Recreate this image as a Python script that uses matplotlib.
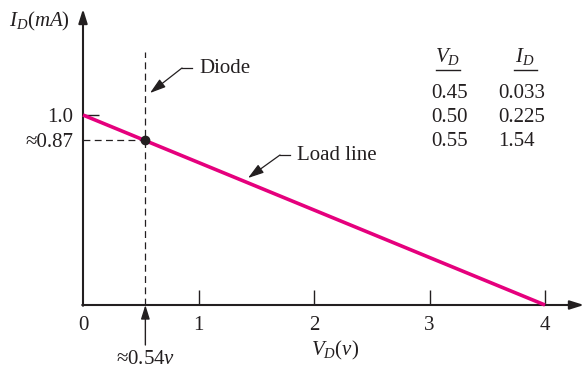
import matplotlib
matplotlib.use("Agg")
import matplotlib.pyplot as plt
from matplotlib.transforms import Affine2D

# Load line and operating point
load_v = [0.0, 4.0]
load_i = [1.0, 0.0]
q_v = 0.54
q_i = 0.87

x_ticks = [0, 1, 2, 3, 4]
x_tick_labels = ["0", "1", "2", "3", "4"]
y_tick = 1.0
y_tick_label = "1.0"
q_i_label = "≈0.87"
q_v_label = "≈0.54$v$"

# Diode characteristic table
table_vd = ["0.45", "0.50", "0.55"]
table_id = ["0.033", "0.225", "1.54"]

plt.rcParams["font.family"] = ["Liberation Serif", "DejaVu Serif"]
plt.rcParams["mathtext.fontset"] = "custom"
plt.rcParams["mathtext.rm"] = "Liberation Serif"
plt.rcParams["mathtext.it"] = "Liberation Serif:italic"
plt.rcParams["mathtext.bf"] = "Liberation Serif:bold"

W, H = 585, 370
fig = plt.figure(figsize=(W / 100, H / 100), dpi=100)
ax = fig.add_axes([0, 0, 1, 1])

# Pixel geometry of the plotting area
x0_px, ux = 83.0, 115.5   # x = 0 position, pixels per volt
y0_px, uy = 305.0, 190.0  # y = 0 position (from top), pixels per mA
ax.set_xlim(-x0_px / ux, (W - x0_px) / ux)
ax.set_ylim(-(H - y0_px) / uy, y0_px / uy)
ax.axis("off")

# transform in pixels measured from the top-left corner
pix = Affine2D().scale(1 / W, -1 / H).translate(0, 1) + fig.transFigure

FS = 15
black = "#231f20"
magenta = "#e5007d"

# axes with arrow heads
arrow_kw = dict(arrowstyle="-|>,head_length=0.7,head_width=0.22",
                color=black, lw=1.5, mutation_scale=12, shrinkA=0, shrinkB=0)
ax.annotate("", xy=(x0_px, 9), xytext=(x0_px, y0_px + 0.8),
            xycoords=pix, textcoords=pix, arrowprops=arrow_kw)
ax.annotate("", xy=(584, y0_px), xytext=(x0_px - 0.8, y0_px),
            xycoords=pix, textcoords=pix, arrowprops=arrow_kw)

# tick marks
tick_len_y = 15 / uy
tick_len_x = 16 / ux
ax.vlines(x_ticks[1:], 0, tick_len_y, color=black, lw=1.0)
ax.hlines([y_tick], 0, tick_len_x, color=black, lw=1.0)

# tick labels
for xv, lab in zip(x_ticks, x_tick_labels):
    ax.text(xv, -25 / uy, lab, ha="center", va="baseline", fontsize=FS, color=black)
ax.text(-10 / ux, y_tick, y_tick_label, ha="right", va="center_baseline",
        fontsize=FS, color=black)
ax.text(-10 / ux, q_i, q_i_label, ha="right", va="center_baseline",
        fontsize=FS, color=black)

# axis titles
ax.text(9, 26, r"$I_D(mA)$", transform=pix, ha="left", va="baseline",
        fontsize=FS, color=black)
ax.text(311, 355, r"$V_D(v)$", transform=pix, ha="left", va="baseline",
        fontsize=FS, color=black)

# diode line (vertical dashed) and projection to the current axis
dash = (0, (5.5, 3.5))
ax.plot([q_v, q_v], [0, (y0_px - 52) / uy], color=black, lw=0.9, linestyle=dash)
ax.plot([0, q_v], [q_i, q_i], color=black, lw=0.9, linestyle=dash)

# load line
ax.plot(load_v, load_i, color=magenta, lw=2.6, solid_capstyle="butt", zorder=3)
ax.plot([q_v], [q_i], "o", color=black, ms=6, zorder=4)

# arrow pointing at the operating voltage
ax.annotate("", xy=(q_v, 0), xytext=(q_v, -40 / uy),
            arrowprops=dict(arrowstyle="-|>,head_length=0.7,head_width=0.22",
                            color=black, lw=1.0, mutation_scale=12,
                            shrinkA=0, shrinkB=0))
ax.text(q_v, -59 / uy, q_v_label, ha="center", va="baseline", fontsize=FS,
        color=black)

# callouts
lead_kw = dict(arrowstyle="-|>,head_length=0.8,head_width=0.25",
               color=black, lw=0.9, mutation_scale=12, shrinkA=0, shrinkB=0)
ax.plot([192, 182], [68, 68], color=black, lw=0.9, transform=pix)
ax.annotate("", xy=(150, 93), xytext=(182, 68), xycoords=pix, textcoords=pix,
            arrowprops=lead_kw)
ax.text(199, 73, "Diode", transform=pix, ha="left", va="baseline",
        fontsize=FS, color=black)

ax.plot([290, 280], [155, 155], color=black, lw=0.9, transform=pix)
ax.annotate("", xy=(248, 178), xytext=(280, 155), xycoords=pix, textcoords=pix,
            arrowprops=lead_kw)
ax.text(297, 160, "Load line", transform=pix, ha="left", va="baseline",
        fontsize=FS, color=black)

# characteristic table
col1, col2 = 431, 498
ax.text(448, 62, r"$V_D$", transform=pix, ha="center", va="baseline",
        fontsize=FS, color=black)
ax.text(525, 62, r"$I_D$", transform=pix, ha="center", va="baseline",
        fontsize=FS, color=black)
ax.plot([436, 460], [70, 70], color=black, lw=1.0, transform=pix)
ax.plot([514, 537], [70, 70], color=black, lw=1.0, transform=pix)
row_base = [98, 122, 146]
for yb, a, b in zip(row_base, table_vd, table_id):
    ax.text(col1, yb, a, transform=pix, ha="left", va="baseline",
            fontsize=FS, color=black)
    ax.text(col2, yb, b, transform=pix, ha="left", va="baseline",
            fontsize=FS, color=black)

fig.savefig("out.png", dpi=100)
